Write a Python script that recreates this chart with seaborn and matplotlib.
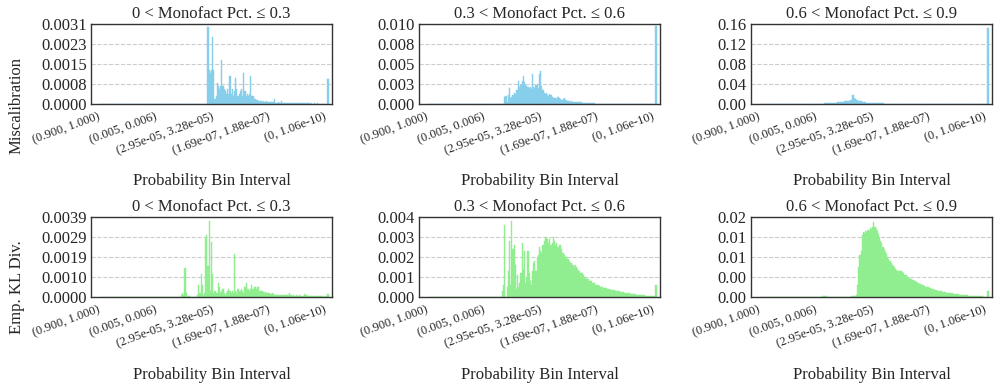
import numpy as np
import pandas as pd
import matplotlib
matplotlib.use("Agg")
import matplotlib.pyplot as plt
import seaborn as sns

# bins run from (0.9, 1.0] down to (0, 1.06e-10]
N_BINS = 197
tick_pos = [0, 49, 98, 147, 196]
tick_labels = ["(0.900, 1.000)", "(0.005, 0.006)", "(2.95e-05, 3.28e-05)",
               "(1.69e-07, 1.88e-07)", "(0, 1.06e-10)"]
titles = ["0 < Monofact Pct. ≤ 0.3", "0.3 < Monofact Pct. ≤ 0.6", "0.6 < Monofact Pct. ≤ 0.9"]
row_labels = ["Miscalibration", "Emp. KL Div."]
row_colors = ["#87CEEB", "#90EE90"]

ymax = [[0.0031, 0.010, 0.16], [0.0039, 0.004, 0.02]]
ytick_labels = [
    [["0.0000", "0.0008", "0.0015", "0.0023", "0.0031"],
     ["0.000", "0.003", "0.005", "0.008", "0.010"],
     ["0.00", "0.04", "0.08", "0.12", "0.16"]],
    [["0.0000", "0.0010", "0.0019", "0.0029", "0.0039"],
     ["0.000", "0.001", "0.002", "0.003", "0.004"],
     ["0.00", "0.00", "0.01", "0.01", "0.02"]],
]

# non-zero tail of each series, last value = bin 196 (leading bins are zero)
misc_low = [
    0.0, 0.0, 0.0030, 0.0013, 0.0012, 0.0013, 0.0026, 0.0013, 0.0002, 0.0003,
    0.0008, 0.0007, 0.0006, 0.0007, 0.0017, 0.0007, 0.0006, 0.0005, 0.0004, 0.0006,
    0.0004, 0.0011, 0.0004, 0.0006, 0.0003, 0.0005, 0.0010, 0.0006, 0.0003, 0.0004,
    0.0005, 0.0006, 0.0003, 0.0012, 0.0005, 0.0003, 0.0004, 0.0003, 0.0004, 0.0011,
    0.0003, 0.0003, 0.0002, 0.0002, 0.00015, 0.00015, 0.0001, 0.0001, 0.0001, 0.00008,
    0.0001, 0.00008, 0.00008, 0.0001, 0.00006, 0.00008, 0.00006, 0.00006, 0.00007, 0.00006,
    0.0002, 0.00005, 0.00005, 0.00006, 0.00004, 0.00005, 0.0001, 0.00004, 0.00003, 0.00004,
    0.00003, 0.00003, 0.00004, 0.00003, 0.00003, 0.00002, 0.00003, 0.00003, 0.00002, 0.00003,
    0.00002, 0.00002, 0.00003, 0.00002, 0.00002, 0.00002, 0.00002, 0.00002, 0.00002, 0.00002,
    0.00002, 0.00001, 0.00002, 0.00001, 0.00002, 0.00001, 0.00001, 0.00002, 0.00001, 0.00001,
    0.00001, 0.00001, 0.00001, 0.00001, 0.00001, 0.00001, 0.00095,
]
misc_mid = [
    0.0, 0.0, 0.0, 0.0, 0.0, 0.0009, 0.0010, 0.0003, 0.0011, 0.0020,
    0.0008, 0.0009, 0.0011, 0.0014, 0.0013, 0.0018, 0.0017, 0.0029, 0.0021, 0.0024,
    0.0029, 0.0035, 0.0027, 0.0024, 0.0023, 0.0021, 0.0020, 0.0021, 0.0019, 0.0038,
    0.0021, 0.0020, 0.0024, 0.0025, 0.0020, 0.0037, 0.0041, 0.0022, 0.0018, 0.0014,
    0.0013, 0.0014, 0.0011, 0.0010, 0.0013, 0.0011, 0.0009, 0.0008, 0.0008, 0.0007,
    0.0006, 0.0009, 0.0007, 0.0006, 0.0005, 0.0005, 0.0006, 0.0008, 0.0005, 0.0004,
    0.0004, 0.0004, 0.0003, 0.0004, 0.0003, 0.0003, 0.0003, 0.00025, 0.0002, 0.0002,
    0.0002, 0.0002, 0.00015, 0.00015, 0.00015, 0.00012, 0.00012, 0.0001, 0.0001, 0.0001,
    0.00008, 0.00008, 0.00007, 0.00007, 0.00006, 0.00006, 0.00006, 0.00005, 0.00005, 0.00005,
    0.00005, 0.00004, 0.00004, 0.00004, 0.00004, 0.00004, 0.00003, 0.00003, 0.00003, 0.00003,
    0.00003, 0.00003, 0.00003, 0.00003, 0.00003, 0.00002, 0.00002, 0.00002, 0.00002, 0.00002,
    0.00002, 0.00002, 0.00002, 0.00002, 0.00002, 0.00002, 0.00002, 0.00002, 0.00002, 0.00002,
    0.00002, 0.00002, 0.00002, 0.00002, 0.00002, 0.00002, 0.00002, 0.00002, 0.00002, 0.00002,
    0.00002, 0.00002, 0.00002, 0.00002, 0.00002, 0.00002, 0.0097,
]
misc_high = [
    0.0001, 0.0001, 0.0001, 0.0002, 0.0002, 0.0002, 0.0003, 0.0004, 0.0005, 0.0006,
    0.0007, 0.0008, 0.0009, 0.0010, 0.0011, 0.0012, 0.0013, 0.0014, 0.0016, 0.0018,
    0.0020, 0.0022, 0.0024, 0.0026, 0.0028, 0.0030, 0.0033, 0.0036, 0.0039, 0.0042,
    0.0046, 0.0049, 0.0052, 0.0055, 0.0058, 0.0062, 0.0066, 0.0072, 0.0085, 0.0180,
    0.0130, 0.0095, 0.0085, 0.0078, 0.0070, 0.0062, 0.0055, 0.0048, 0.0042, 0.0036,
    0.0031, 0.0027, 0.0024, 0.0021, 0.0019, 0.0017, 0.0016, 0.0015, 0.0014, 0.0014,
    0.0013, 0.0013, 0.0012, 0.0012, 0.0011, 0.0011, 0.0010, 0.0010, 0.0010, 0.0009,
    0.0009, 0.0009, 0.0009, 0.0008, 0.0008, 0.0008, 0.0008, 0.0008, 0.0007, 0.0007,
    0.0007, 0.0007, 0.0007, 0.0007, 0.0006, 0.0006, 0.0006, 0.0006, 0.0006, 0.0006,
    0.0006, 0.0005, 0.0005, 0.0005, 0.0005, 0.0005, 0.0005, 0.0005, 0.0005, 0.0004,
    0.0004, 0.0004, 0.0004, 0.0004, 0.0004, 0.0004, 0.0004, 0.0004, 0.0004, 0.0004,
    0.0004, 0.0004, 0.0004, 0.0004, 0.0003, 0.0003, 0.0003, 0.0003, 0.0003, 0.0003,
    0.0003, 0.0003, 0.0003, 0.0003, 0.0003, 0.0003, 0.0003, 0.0003, 0.0003, 0.0003,
    0.0003, 0.0003, 0.0003, 0.0003, 0.0003, 0.0003, 0.0003, 0.0003, 0.0003, 0.0003,
    0.0003, 0.0003, 0.0002, 0.0002, 0.0002, 0.0002, 0.0002, 0.0002, 0.0002, 0.0002,
    0.0002, 0.0002, 0.0002, 0.0002, 0.0002, 0.0002, 0.153,
]
kl_low = [
    0.0, 0.0, 0.0, 0.0, 0.0, 0.0, 0.0, 0.0, 0.0, 0.0001,
    0.0002, 0.0001, 0.0014, 0.0002, 0.0, 0.00005, 0.00005, 0.0, 0.0, 0.0,
    0.0, 0.0, 0.0, 0.0001, 0.0006, 0.0002, 0.0011, 0.0006, 0.0001, 0.0002,
    0.0029, 0.0030, 0.0015, 0.0037, 0.0003, 0.0027, 0.0011, 0.0002, 0.0003, 0.0002,
    0.0002, 0.0007, 0.0005, 0.0002, 0.0003, 0.0004, 0.0002, 0.0001, 0.0002, 0.0003,
    0.0004, 0.0003, 0.0002, 0.0003, 0.0002, 0.0021, 0.0003, 0.0002, 0.0004, 0.0003,
    0.0003, 0.0004, 0.0003, 0.0002, 0.0005, 0.0007, 0.0004, 0.0004, 0.0003, 0.0004,
    0.0006, 0.0004, 0.0005, 0.0005, 0.0004, 0.0005, 0.0005, 0.0003, 0.0003, 0.0003,
    0.00025, 0.0002, 0.00025, 0.0002, 0.0002, 0.0002, 0.00015, 0.00015, 0.0002, 0.00015,
    0.0001, 0.0001, 0.00012, 0.0001, 0.0001, 0.00008, 0.0001, 0.00012, 0.0001, 0.00008,
    0.0001, 0.0001, 0.00008, 0.0002, 0.00008, 0.00007, 0.0001, 0.00006, 0.00007, 0.00008,
    0.00006, 0.0001, 0.00006, 0.00005, 0.00006, 0.00005, 0.00015, 0.0001, 0.00004, 0.00005,
    0.00004, 0.00003, 0.00004, 0.00004, 0.00003, 0.00004, 0.00003, 0.00003, 0.00004, 0.00003,
    0.00003, 0.00003, 0.00002, 0.00003, 0.00002, 0.00003, 0.00017,
]
kl_mid = [
    0.0, 0.0, 0.0, 0.0003, 0.0006, 0.0036, 0.0, 0.0005, 0.0013, 0.0028,
    0.0006, 0.0038, 0.0024, 0.0026, 0.0016, 0.0004, 0.0011, 0.0005, 0.0007, 0.0012,
    0.0027, 0.0014, 0.0023, 0.0007, 0.0010, 0.0023, 0.0012, 0.0008, 0.0006, 0.0013,
    0.0017, 0.0018, 0.0013, 0.0020, 0.0021, 0.0025, 0.0023, 0.0022, 0.0026, 0.0028,
    0.0030, 0.0030, 0.0029, 0.0027, 0.0029, 0.0026, 0.0027, 0.0030, 0.0028, 0.0026,
    0.0027, 0.0025, 0.0026, 0.0026, 0.0024, 0.0022, 0.0022, 0.0021, 0.0020, 0.0019,
    0.0019, 0.0018, 0.0017, 0.0017, 0.0016, 0.0015, 0.0016, 0.0015, 0.0014, 0.0013,
    0.0013, 0.0012, 0.0012, 0.0011, 0.0010, 0.0010, 0.0009, 0.0009, 0.0008, 0.0008,
    0.0008, 0.0007, 0.0007, 0.0007, 0.0006, 0.0006, 0.0006, 0.00055, 0.00052, 0.0005,
    0.00048, 0.00046, 0.00045, 0.00043, 0.00042, 0.0004, 0.00039, 0.00037, 0.00036, 0.00035,
    0.00033, 0.00032, 0.0003, 0.00029, 0.00028, 0.00027, 0.00025, 0.00024, 0.00023, 0.00022,
    0.00021, 0.0002, 0.00019, 0.00018, 0.00017, 0.00016, 0.00015, 0.00014, 0.00013, 0.00012,
    0.00011, 0.0001, 0.0001, 0.00009, 0.00009, 0.00008, 0.00008, 0.00007, 0.00007, 0.00006,
    0.00006, 0.00005, 0.00005, 0.00004, 0.00004, 0.00004, 0.0006,
]
kl_high = [
    0.00005, 0.00005, 0.00005, 0.0001, 0.0001, 0.0001, 0.0001, 0.0001, 0.0001, 0.0001,
    0.0001, 0.0001, 0.0001, 0.00015, 0.0002, 0.0003, 0.00015, 0.0001, 0.0001, 0.0001,
    0.0001, 0.0001, 0.0001, 0.0001, 0.0001, 0.0001, 0.0001, 0.0001, 0.0001, 0.0001,
    0.0001, 0.0001, 0.0001, 0.0001, 0.0001, 0.0001, 0.0001, 0.0001, 0.00015, 0.00015,
    0.0002, 0.0002, 0.0005, 0.0030, 0.0075, 0.0105, 0.0115, 0.0155, 0.0162, 0.0160,
    0.0165, 0.0163, 0.0168, 0.0166, 0.0172, 0.0170, 0.0175, 0.0188, 0.0174, 0.0170,
    0.0164, 0.0158, 0.0150, 0.0140, 0.0134, 0.0126, 0.0120, 0.0113, 0.0108, 0.0101,
    0.0095, 0.0090, 0.0085, 0.0080, 0.0077, 0.0074, 0.0071, 0.0068, 0.0066, 0.0064,
    0.0066, 0.0065, 0.0062, 0.0059, 0.0056, 0.0054, 0.0051, 0.0049, 0.0047, 0.0045,
    0.0044, 0.0042, 0.0040, 0.0039, 0.0037, 0.0035, 0.0034, 0.0033, 0.0031, 0.0030,
    0.0029, 0.0027, 0.0026, 0.0025, 0.0024, 0.0023, 0.0022, 0.0021, 0.0020, 0.0019,
    0.0018, 0.0017, 0.0016, 0.0016, 0.0015, 0.0014, 0.0014, 0.0013, 0.0012, 0.0012,
    0.0011, 0.0011, 0.0010, 0.0010, 0.0009, 0.0009, 0.00085, 0.0008, 0.00075, 0.0007,
    0.00065, 0.0006, 0.0006, 0.00055, 0.0005, 0.0005, 0.00045, 0.00042, 0.0004, 0.00037,
    0.00035, 0.00032, 0.0003, 0.00028, 0.00026, 0.00024, 0.00022, 0.0002, 0.00018, 0.00016,
    0.00015, 0.00014, 0.00012, 0.00011, 0.0001, 0.0001, 0.0014,
]
series = [[misc_low, misc_mid, misc_high], [kl_low, kl_mid, kl_high]]


def full_bins(vals):
    # leading bins (high-probability end) are empty
    return [0.0] * (N_BINS - len(vals)) + vals


sns.set_style("white")
plt.rcParams["font.family"] = ["Liberation Serif", "DejaVu Serif"]

W, H = 994, 388
fig = plt.figure(figsize=(W / 100, H / 100), dpi=100)

col_left = [91, 419, 751]
row_top = [24, 217]
ax_w, ax_h = 241, 80
xlabel_y = [-0.86, -0.88]
ylabel_center = [105, 287]

for r in range(2):
    for c in range(3):
        ax = fig.add_axes([col_left[c] / W, (H - row_top[r] - ax_h) / H, ax_w / W, ax_h / H])
        df = pd.DataFrame({"bin": np.arange(N_BINS), "value": full_bins(series[r][c])})
        sns.barplot(data=df, x="bin", y="value", native_scale=True, width=1.0,
                    color=row_colors[r], saturation=1, edgecolor=row_colors[r],
                    linewidth=0.3, errorbar=None, ax=ax)
        ax.set_xlim(-9.5, 199.5)
        ax.set_ylim(0, ymax[r][c])
        ax.set_yticks(np.linspace(0, ymax[r][c], 5))
        ax.set_yticklabels(ytick_labels[r][c])
        ax.set_xticks(tick_pos)
        ax.set_xticklabels(tick_labels, rotation=20, ha="right", fontsize=9)
        ax.tick_params(axis="x", length=3, width=0.8, color="#333333", pad=2)
        ax.tick_params(axis="y", length=0, labelsize=12, pad=3)
        ax.grid(axis="y", linestyle="--", color="#cccccc", linewidth=0.8)
        ax.set_axisbelow(True)
        for s in ax.spines.values():
            s.set_color("#333333")
            s.set_linewidth(1.0)
        ax.set_title(titles[c], fontsize=12, pad=4)
        ax.set_xlabel("Probability Bin Interval", fontsize=12)
        ax.xaxis.set_label_coords(0.5, xlabel_y[r])
        ax.set_ylabel("")
    fig.text(17 / W, (H - ylabel_center[r]) / H, row_labels[r], rotation=90,
             ha="center", va="center", fontsize=12)

fig.savefig("out.png", dpi=100)
